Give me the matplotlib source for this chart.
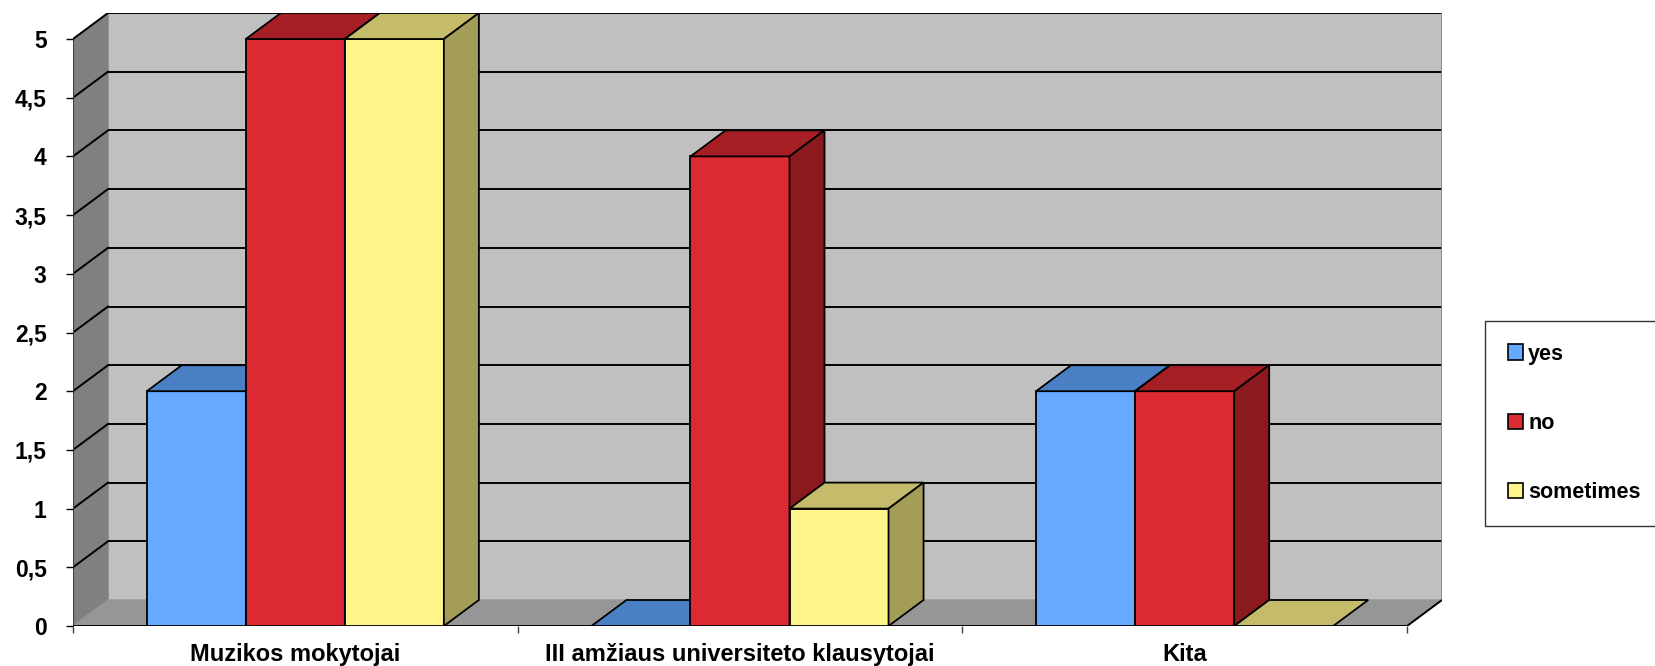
import matplotlib
matplotlib.use("Agg")
import matplotlib.pyplot as plt
from matplotlib.patches import Patch
import numpy as np

plt.rcParams['font.family'] = ['Liberation Sans', 'DejaVu Sans']
plt.rcParams['font.weight'] = 'bold'

categories = ["Muzikos mokytojai", "III amžiaus universiteto klausytojai", "Kita"]
series = ["yes", "no", "sometimes"]
yes = [2, 0, 2]
no = [5, 4, 2]
sometimes = [5, 1, 0]
ytick_values = [0, 0.5, 1, 1.5, 2, 2.5, 3, 3.5, 4, 4.5, 5]
ytick_labels = ["0", "0,5", "1", "1,5", "2", "2,5", "3", "3,5", "4", "4,5", "5"]

# front / top / side shades for each series
colors = {
    "yes": ("#66AAFF", "#4A7FC4", "#3C6AA8"),
    "no": ("#DC2A32", "#A61F25", "#8B1A1F"),
    "sometimes": ("#FFF48A", "#C4BC6A", "#A39D58"),
}

W, H = 1656, 666
fig = plt.figure(figsize=(W / 100, H / 100), dpi=100)
ax = fig.add_axes([73 / W, 40 / H, (1442 - 73) / W, (626 - 13) / H])

DX = 35 / 444.6   # depth offset in category units
DY = 26 / 117.4   # depth offset in value units
ymax = 5
x0, x1 = -0.5, len(categories) - 0.5

ax.set_xlim(x0, x1 + DX)
ax.set_ylim(0, ymax + DY)
for s in ax.spines.values():
    s.set_visible(False)

# walls and floor
ax.fill([x0 + DX, x1 + DX, x1 + DX, x0 + DX], [DY, DY, ymax + DY, ymax + DY],
        color="#C0C0C0", zorder=0)
ax.fill([x0, x0, x0 + DX, x0 + DX], [0, ymax, ymax + DY, DY], color="#808080", zorder=0)
ax.fill([x0, x1, x1 + DX, x0 + DX], [0, 0, DY, DY], color="#969696", zorder=1)

# gridlines on back and side walls
for g in ytick_values[1:]:
    ax.plot([x0 + DX, x1 + DX], [g + DY, g + DY], color="black", lw=1.4, zorder=1,
            solid_capstyle="butt")
    ax.plot([x0, x0 + DX], [g, g + DY], color="black", lw=1.4, zorder=1)
ax.plot([x1 + DX, x1 + DX], [DY, ymax + DY], color="#808080", lw=1.2, zorder=1)
ax.plot([x0, x0], [0, ymax], color="#404040", lw=0.8, zorder=1)
ax.plot([x0, x1, x1 + DX], [0, 0, DY], color="black", lw=1.4, zorder=2,
        solid_capstyle="butt")

# bars with 3D faces, drawn left to right
bw = 0.2227
values = [yes, no, sometimes]
z = 3
for i in range(len(categories)):
    for j, name in enumerate(series):
        v = values[j][i]
        front, top, side = colors[name]
        left = i + (j - 1) * bw - bw / 2
        ax.bar(left, v, width=bw, align="edge", color=front, edgecolor="black",
               linewidth=1.3, zorder=z)
        ax.fill([left, left + bw, left + bw + DX, left + DX], [v, v, v + DY, v + DY],
                facecolor=top, edgecolor="black", linewidth=1.3, zorder=z)
        if v > 0:
            ax.fill([left + bw, left + bw, left + bw + DX, left + bw + DX],
                    [0, v, v + DY, DY], facecolor=side, edgecolor="black",
                    linewidth=1.3, zorder=z)
        z += 1

# axes ticks
ax.set_yticks(ytick_values, ytick_labels)
ax.tick_params(axis="y", length=5, width=1, pad=14, labelsize=16.5)
ax.set_xticks(np.arange(len(categories) + 1) - 0.5, [""] * (len(categories) + 1))
ax.set_xticks(np.arange(len(categories)), categories, minor=True)
ax.tick_params(axis="x", which="major", length=5, width=1, color="#404040")
ax.tick_params(axis="x", which="minor", length=0, pad=12, labelsize=17)

handles = [Patch(facecolor=colors[s][0], edgecolor="black", linewidth=1.2) for s in series]
leg = fig.legend(handles, series, loc="center left",
                 bbox_to_anchor=(1485 / W, (H - 423.5) / H),
                 fontsize=15.5, frameon=True, fancybox=False, edgecolor="black",
                 handlelength=0.7, handleheight=0.7, handletextpad=0.25,
                 labelspacing=2.25, borderpad=1.05, borderaxespad=0)
leg.get_frame().set_linewidth(1.0)

fig.savefig("out.png", dpi=100)
